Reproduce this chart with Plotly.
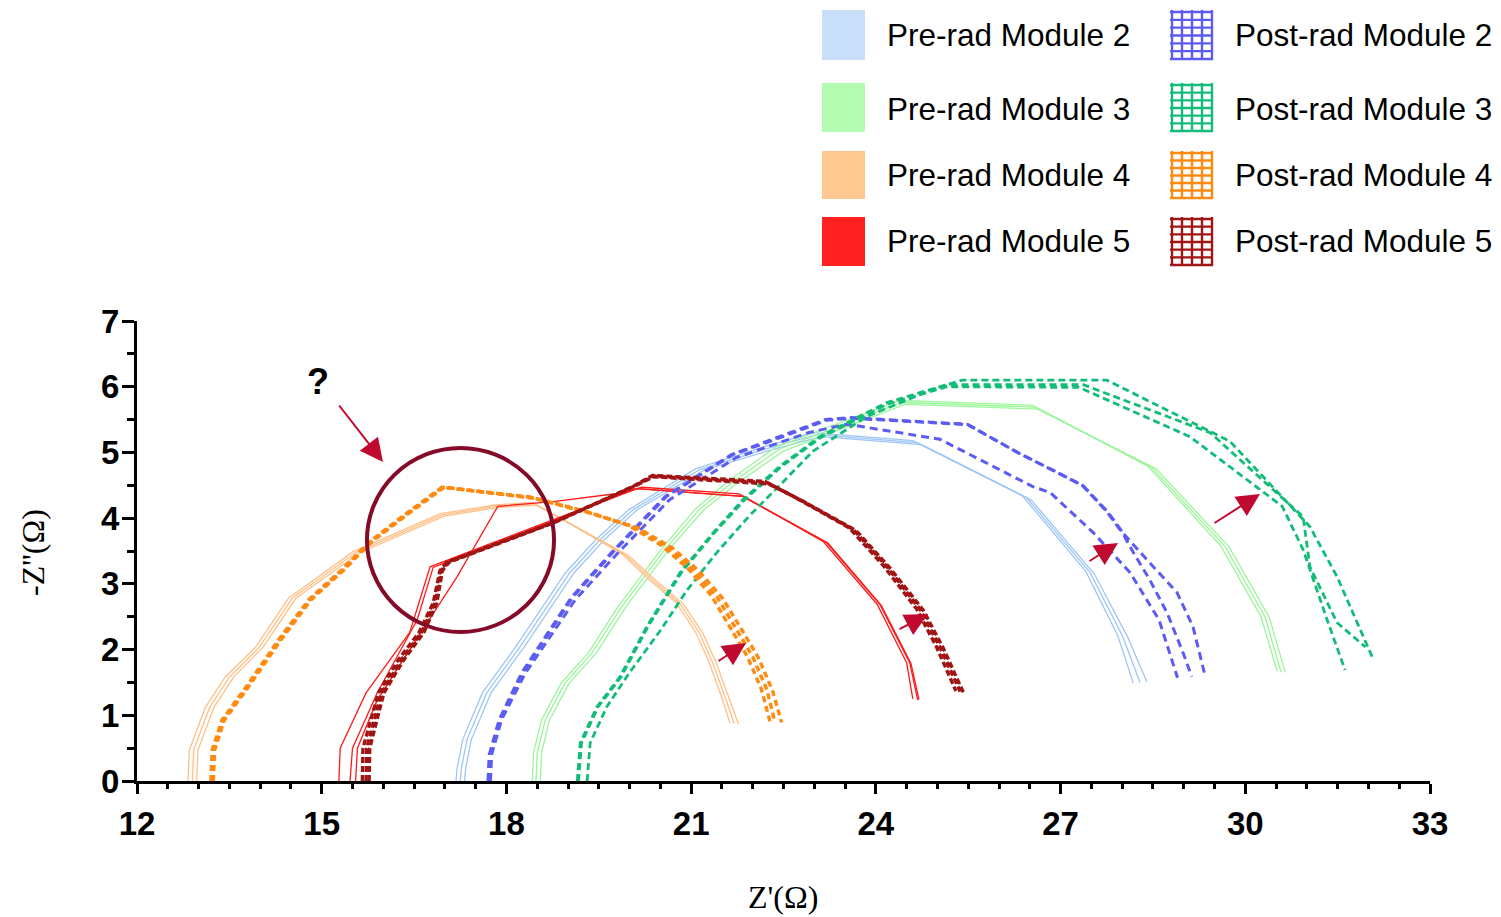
import plotly.graph_objects as go

# Nyquist data: Z' (real) and -Z'' (imaginary), three measurements per module
pre_m2_re = [
    [17.18, 17.20, 17.29, 17.61, 18.15, 18.96, 19.45, 19.99, 21.07, 22.13, 22.97, 24.60, 26.38, 27.41, 27.93, 28.18],
    [17.25, 17.27, 17.36, 17.68, 18.22, 19.03, 19.52, 20.06, 21.14, 22.20, 23.04, 24.67, 26.45, 27.48, 28.01, 28.29],
    [17.32, 17.34, 17.43, 17.75, 18.29, 19.10, 19.59, 20.13, 21.21, 22.27, 23.11, 24.74, 26.52, 27.55, 28.09, 28.40],
]
pre_m2_im = [
    [0.00, 0.20, 0.63, 1.34, 2.04, 3.17, 3.67, 4.13, 4.75, 5.07, 5.30, 5.18, 4.34, 3.19, 2.21, 1.49],
    [0.00, 0.20, 0.63, 1.34, 2.04, 3.17, 3.67, 4.13, 4.74, 5.05, 5.27, 5.15, 4.31, 3.17, 2.20, 1.50],
    [0.00, 0.20, 0.63, 1.34, 2.04, 3.17, 3.67, 4.13, 4.73, 5.03, 5.24, 5.12, 4.28, 3.15, 2.19, 1.51],
]

post_m2_re = [
    [17.70, 17.72, 17.88, 18.25, 18.74, 19.06, 19.71, 20.58, 21.66, 22.21, 23.18, 23.60, 25.48, 26.30, 26.90, 27.35, 27.75, 27.96, 28.40, 28.89, 29.15, 29.35],
    [17.74, 17.76, 17.92, 18.30, 18.80, 19.12, 19.78, 20.65, 21.73, 22.28, 22.90, 23.53, 25.04, 26.55, 26.83, 27.53, 28.13, 28.60, 28.90],
    [17.72, 17.74, 17.90, 18.27, 18.76, 19.08, 19.73, 20.60, 21.68, 22.23, 23.20, 23.62, 25.50, 26.32, 26.92, 27.37, 27.77, 27.98, 28.18, 28.45, 28.73, 28.99, 29.13],
]
post_m2_im = [
    [0.00, 0.40, 0.93, 1.65, 2.35, 2.80, 3.48, 4.33, 4.97, 5.16, 5.50, 5.53, 5.43, 5.00, 4.72, 4.50, 4.10, 3.83, 3.37, 2.87, 2.35, 1.59],
    [0.00, 0.40, 0.93, 1.63, 2.32, 2.76, 3.44, 4.28, 4.92, 5.10, 5.30, 5.43, 5.20, 4.48, 4.39, 3.78, 3.17, 2.45, 1.57],
    [0.00, 0.40, 0.93, 1.65, 2.35, 2.80, 3.48, 4.33, 4.97, 5.15, 5.49, 5.52, 5.42, 4.99, 4.71, 4.49, 4.09, 3.82, 3.48, 3.06, 2.56, 1.95, 1.59],
]

pre_m3_re = [
    [18.42, 18.44, 18.57, 18.89, 19.33, 19.81, 20.51, 21.07, 21.60, 22.37, 24.38, 26.54, 28.42, 29.60, 30.25, 30.52],
    [18.48, 18.50, 18.63, 18.95, 19.39, 19.87, 20.57, 21.13, 21.66, 22.43, 24.42, 26.58, 28.48, 29.67, 30.32, 30.58],
    [18.55, 18.57, 18.70, 19.02, 19.46, 19.94, 20.64, 21.20, 21.73, 22.50, 24.47, 26.63, 28.55, 29.74, 30.39, 30.65],
]
pre_m3_im = [
    [0.00, 0.43, 0.93, 1.49, 1.95, 2.65, 3.52, 4.14, 4.56, 5.08, 5.79, 5.72, 4.79, 3.58, 2.51, 1.67],
    [0.00, 0.43, 0.93, 1.49, 1.95, 2.65, 3.52, 4.13, 4.54, 5.05, 5.76, 5.69, 4.77, 3.57, 2.50, 1.66],
    [0.00, 0.43, 0.93, 1.49, 1.95, 2.65, 3.52, 4.12, 4.52, 5.02, 5.73, 5.66, 4.75, 3.56, 2.49, 1.65],
]

post_m3_re = [
    [19.15, 19.20, 19.47, 19.84, 20.28, 20.82, 21.36, 21.84, 22.44, 23.09, 24.18, 25.16, 25.40, 27.75, 29.75, 31.05, 31.49, 32.07],
    [19.31, 19.36, 19.63, 20.00, 20.50, 20.93, 21.42, 21.96, 22.44, 22.98, 23.86, 24.93, 25.20, 27.37, 29.43, 30.94, 31.05, 31.49, 31.95],
    [19.17, 19.22, 19.49, 19.86, 20.30, 20.84, 21.38, 21.86, 22.46, 23.11, 24.20, 25.16, 27.30, 29.10, 30.60, 30.94, 31.33, 31.62],
]
post_m3_im = [
    [0.00, 0.58, 1.13, 1.58, 2.35, 3.17, 3.78, 4.28, 4.79, 5.24, 5.76, 6.04, 6.10, 6.10, 5.17, 3.87, 3.11, 1.87],
    [0.00, 0.58, 1.13, 1.65, 2.29, 2.90, 3.48, 4.05, 4.50, 5.02, 5.55, 5.96, 6.03, 6.03, 5.30, 4.02, 3.26, 2.41, 2.04],
    [0.00, 0.58, 1.13, 1.58, 2.35, 3.17, 3.78, 4.27, 4.78, 5.23, 5.74, 6.00, 5.99, 5.24, 4.18, 3.52, 2.45, 1.69],
]

pre_m4_re = [
    [12.83, 12.85, 13.11, 13.43, 13.93, 14.46, 15.51, 16.93, 17.82, 18.42, 18.93, 19.87, 20.31, 20.75, 21.07, 21.29, 21.51, 21.63],
    [12.90, 12.92, 13.18, 13.50, 13.99, 14.52, 15.56, 16.96, 17.84, 18.45, 18.97, 19.92, 20.37, 20.81, 21.13, 21.35, 21.57, 21.70],
    [12.97, 12.99, 13.25, 13.57, 14.05, 14.58, 15.61, 16.99, 17.86, 18.48, 19.01, 19.97, 20.43, 20.87, 21.19, 21.41, 21.63, 21.77],
]
pre_m4_im = [
    [0.00, 0.47, 1.12, 1.58, 2.04, 2.78, 3.49, 4.07, 4.20, 4.24, 3.97, 3.46, 3.07, 2.72, 2.27, 1.81, 1.24, 0.88],
    [0.00, 0.47, 1.12, 1.58, 2.04, 2.78, 3.48, 4.05, 4.18, 4.22, 3.95, 3.45, 3.06, 2.71, 2.26, 1.80, 1.23, 0.87],
    [0.00, 0.47, 1.12, 1.58, 2.04, 2.78, 3.47, 4.03, 4.16, 4.20, 3.93, 3.44, 3.05, 2.70, 2.25, 1.79, 1.22, 0.86],
]

post_m4_re = [
    [13.20, 13.22, 13.38, 13.77, 14.30, 14.79, 15.33, 15.76, 16.30, 16.95, 18.40, 19.30, 19.98, 20.51, 20.94, 21.33, 21.65, 21.91, 22.14, 22.28],
    [13.22, 13.24, 13.40, 13.79, 14.32, 14.81, 15.35, 15.78, 16.32, 16.97, 18.43, 19.36, 20.06, 20.60, 21.03, 21.42, 21.74, 22.00, 22.23, 22.36],
    [13.24, 13.26, 13.42, 13.81, 14.34, 14.83, 15.37, 15.80, 16.34, 16.99, 18.46, 19.42, 20.14, 20.69, 21.12, 21.51, 21.83, 22.09, 22.32, 22.47],
]
post_m4_im = [
    [0.00, 0.47, 0.93, 1.43, 2.15, 2.76, 3.22, 3.63, 4.02, 4.47, 4.32, 4.10, 3.89, 3.59, 3.24, 2.82, 2.31, 1.90, 1.40, 0.91],
    [0.00, 0.47, 0.93, 1.43, 2.15, 2.76, 3.22, 3.63, 4.02, 4.47, 4.31, 4.08, 3.87, 3.57, 3.22, 2.80, 2.30, 1.89, 1.39, 0.90],
    [0.00, 0.47, 0.93, 1.43, 2.15, 2.76, 3.22, 3.63, 4.02, 4.47, 4.30, 4.06, 3.85, 3.55, 3.20, 2.78, 2.29, 1.88, 1.38, 0.89],
]

pre_m5_re = [
    [15.28, 15.30, 15.72, 16.43, 16.76, 20.00, 20.20, 21.78, 23.15, 24.02, 24.50, 24.60],
    [15.46, 15.50, 15.90, 16.55, 16.81, 19.93, 20.12, 21.84, 23.20, 24.07, 24.55, 24.68],
    [15.55, 15.58, 15.90, 16.32, 16.71, 17.20, 17.86, 18.76, 19.93, 20.12, 21.84, 23.22, 24.09, 24.57, 24.70],
]
pre_m5_im = [
    [0.00, 0.50, 1.34, 2.26, 3.26, 4.42, 4.47, 4.37, 3.64, 2.69, 1.80, 1.25],
    [0.00, 0.50, 1.34, 2.45, 3.25, 4.39, 4.45, 4.33, 3.63, 2.68, 1.80, 1.23],
    [0.00, 0.50, 1.23, 1.84, 2.41, 3.11, 4.18, 4.25, 4.39, 4.45, 4.33, 3.62, 2.67, 1.79, 1.24],
]

post_m5_re = [
    [15.66, 15.67, 15.92, 16.24, 16.58, 16.81, 16.92, 17.03, 18.75, 20.05, 20.37, 22.20, 22.72, 23.57, 24.12, 24.66, 24.98, 25.30],
    [15.72, 15.73, 15.97, 16.29, 16.62, 16.84, 16.94, 17.05, 18.76, 20.06, 20.38, 22.23, 22.77, 23.63, 24.18, 24.72, 25.04, 25.37],
    [15.77, 15.78, 16.01, 16.33, 16.66, 16.87, 16.96, 17.07, 18.77, 20.07, 20.39, 22.26, 22.81, 23.68, 24.23, 24.77, 25.09, 25.42],
]
post_m5_im = [
    [0.00, 0.50, 1.34, 1.84, 2.26, 2.71, 3.20, 3.33, 3.93, 4.48, 4.65, 4.56, 4.30, 3.85, 3.28, 2.62, 2.05, 1.37],
    [0.00, 0.50, 1.34, 1.84, 2.26, 2.71, 3.20, 3.33, 3.93, 4.48, 4.64, 4.54, 4.28, 3.83, 3.26, 2.61, 2.04, 1.36],
    [0.00, 0.50, 1.34, 1.84, 2.26, 2.71, 3.20, 3.33, 3.93, 4.48, 4.63, 4.52, 4.26, 3.81, 3.24, 2.60, 2.03, 1.35],
]

legend_labels = ["Module 2", "Module 3", "Module 4", "Module 5"]

pre_line_colors = ["#9EC6F5", "#9CF59A", "#FFC088", "#FF1A1A"]
pre_swatch_colors = ["#C9DFF9", "#B2FBB0", "#FFC891", "#FF2020"]
post_colors = ["#5C5CF2", "#13BC78", "#FF8A12", "#A01414"]

pre_sets = [(pre_m2_re, pre_m2_im), (pre_m3_re, pre_m3_im),
            (pre_m4_re, pre_m4_im), (pre_m5_re, pre_m5_im)]
post_sets = [(post_m2_re, post_m2_im), (post_m3_re, post_m3_im),
             (post_m4_re, post_m4_im), (post_m5_re, post_m5_im)]
post_widths = [3.0, 2.8, 3.4, 3.4]
post_dashes = ["8px,5px", "7px,4px", "6px,4px", "6px,3px"]

fig = go.Figure()

for (res, ims), col in zip(pre_sets, pre_line_colors):
    for xr, yi in zip(res, ims):
        fig.add_trace(go.Scatter(x=xr, y=yi, mode="lines",
                                 line=dict(color=col, width=1.3),
                                 showlegend=False, hoverinfo="skip"))

for (res, ims), col, w, d in zip(post_sets, post_colors, post_widths, post_dashes):
    for xr, yi in zip(res, ims):
        fig.add_trace(go.Scatter(x=xr, y=yi, mode="lines",
                                 line=dict(color=col, width=w, dash=d),
                                 showlegend=False, hoverinfo="skip"))

# plot area in pixels
W, H = 1501, 917
L, R, T, B = 137, 71, 321, 136
PW, PH = W - L - R, H - T - B


def px(xp):
    return (xp - L) / PW


def py(yp):
    return (H - B - yp) / PH


shapes = []
annotations = []

# custom legend: solid swatches (pre) and grid swatches (post)
row_tops = [10, 83, 151, 217]
row_bots = [60, 132, 199, 266]
row_mid = [35, 109, 175, 241]
for i in range(4):
    shapes.append(dict(type="rect", xref="paper", yref="paper",
                       x0=px(822), x1=px(865), y0=py(row_bots[i]), y1=py(row_tops[i]),
                       fillcolor=pre_swatch_colors[i], line=dict(width=0)))
    gx0, gx1 = 1170, 1213
    gy0, gy1 = row_tops[i], row_bots[i]
    for k in range(5):
        xv = gx0 + 2 + k * (gx1 - gx0 - 3) / 4
        shapes.append(dict(type="line", xref="paper", yref="paper",
                           x0=px(xv), x1=px(xv), y0=py(gy0), y1=py(gy1),
                           line=dict(color=post_colors[i], width=2.4)))
    for k in range(7):
        yv = gy0 + 2 + k * (gy1 - gy0 - 3) / 6
        shapes.append(dict(type="line", xref="paper", yref="paper",
                           x0=px(gx0), x1=px(gx1), y0=py(yv), y1=py(yv),
                           line=dict(color=post_colors[i], width=2.4)))
    annotations.append(dict(xref="paper", yref="paper", x=px(885), y=py(row_mid[i]),
                            xanchor="left", yanchor="middle", showarrow=False,
                            text="Pre-rad " + legend_labels[i],
                            font=dict(family="Liberation Sans, Arial, sans-serif", size=31.5, color="black")))
    annotations.append(dict(xref="paper", yref="paper", x=px(1233), y=py(row_mid[i]),
                            xanchor="left", yanchor="middle", showarrow=False,
                            text="Post-rad " + legend_labels[i],
                            font=dict(family="Liberation Sans, Arial, sans-serif", size=31.5, color="black")))

# highlighted region
shapes.append(dict(type="circle", xref="x", yref="y", x0=15.735, x1=18.773, y0=2.268, y1=5.068,
                   line=dict(color="#850A28", width=4)))

arrow_color = "#C0092F"
arrows = [
    (15.265, 5.737, 15.995, 4.855),
    (21.42, 1.811, 21.891, 2.10),
    (24.36, 2.298, 24.847, 2.541),
    (27.446, 3.333, 27.933, 3.622),
    (29.476, 3.911, 30.239, 4.368),
]
for tx, ty, hx, hy in arrows:
    annotations.append(dict(x=hx, y=hy, ax=tx, ay=ty, xref="x", yref="y", axref="x", ayref="y",
                            text="", showarrow=True, arrowhead=2, arrowsize=2.3, arrowwidth=2,
                            arrowcolor=arrow_color, standoff=0))

annotations.append(dict(x=px(318), y=py(381), xref="paper", yref="paper", text="<b>?</b>",
                        showarrow=False, xanchor="center", yanchor="middle",
                        font=dict(family="Liberation Sans, Arial, sans-serif", size=36, color="black")))

# axis titles
annotations.append(dict(x=px(783), y=py(897), xref="paper", yref="paper", text="Z'(Ω)",
                        showarrow=False, xanchor="center", yanchor="middle",
                        font=dict(family="Liberation Serif, Times New Roman, serif", size=32, color="black")))
annotations.append(dict(x=px(33), y=py(552), xref="paper", yref="paper", text="-Z''(Ω)",
                        showarrow=False, xanchor="center", yanchor="middle", textangle=-90,
                        font=dict(family="Liberation Serif, Times New Roman, serif", size=32, color="black")))

tick_font = dict(family="Liberation Sans, Arial, sans-serif", size=33, color="black", weight="bold")

fig.update_layout(
    width=W, height=H,
    margin=dict(l=L, r=R, t=T, b=B, pad=0),
    paper_bgcolor="white", plot_bgcolor="white",
    showlegend=False,
    shapes=shapes,
    annotations=annotations,
    xaxis=dict(range=[12, 33], tickvals=[12, 15, 18, 21, 24, 27, 30, 33],
               showgrid=False, zeroline=False, showline=True, linecolor="black", linewidth=3,
               ticks="outside", ticklen=10, tickwidth=3, tickcolor="black",
               minor=dict(ticks="outside", ticklen=5, tickwidth=3, tickcolor="black", dtick=0.5, showgrid=False),
               tickfont=tick_font, ticklabelstandoff=1),
    yaxis=dict(range=[0, 7], dtick=1, tick0=0,
               showgrid=False, zeroline=False, showline=True, linecolor="black", linewidth=3,
               ticks="outside", ticklen=12, tickwidth=3, tickcolor="black",
               minor=dict(ticks="outside", ticklen=7, tickwidth=3, tickcolor="black", dtick=0.5, showgrid=False),
               tickfont=tick_font, ticklabelstandoff=-4),
)

fig.write_html("out.html")
